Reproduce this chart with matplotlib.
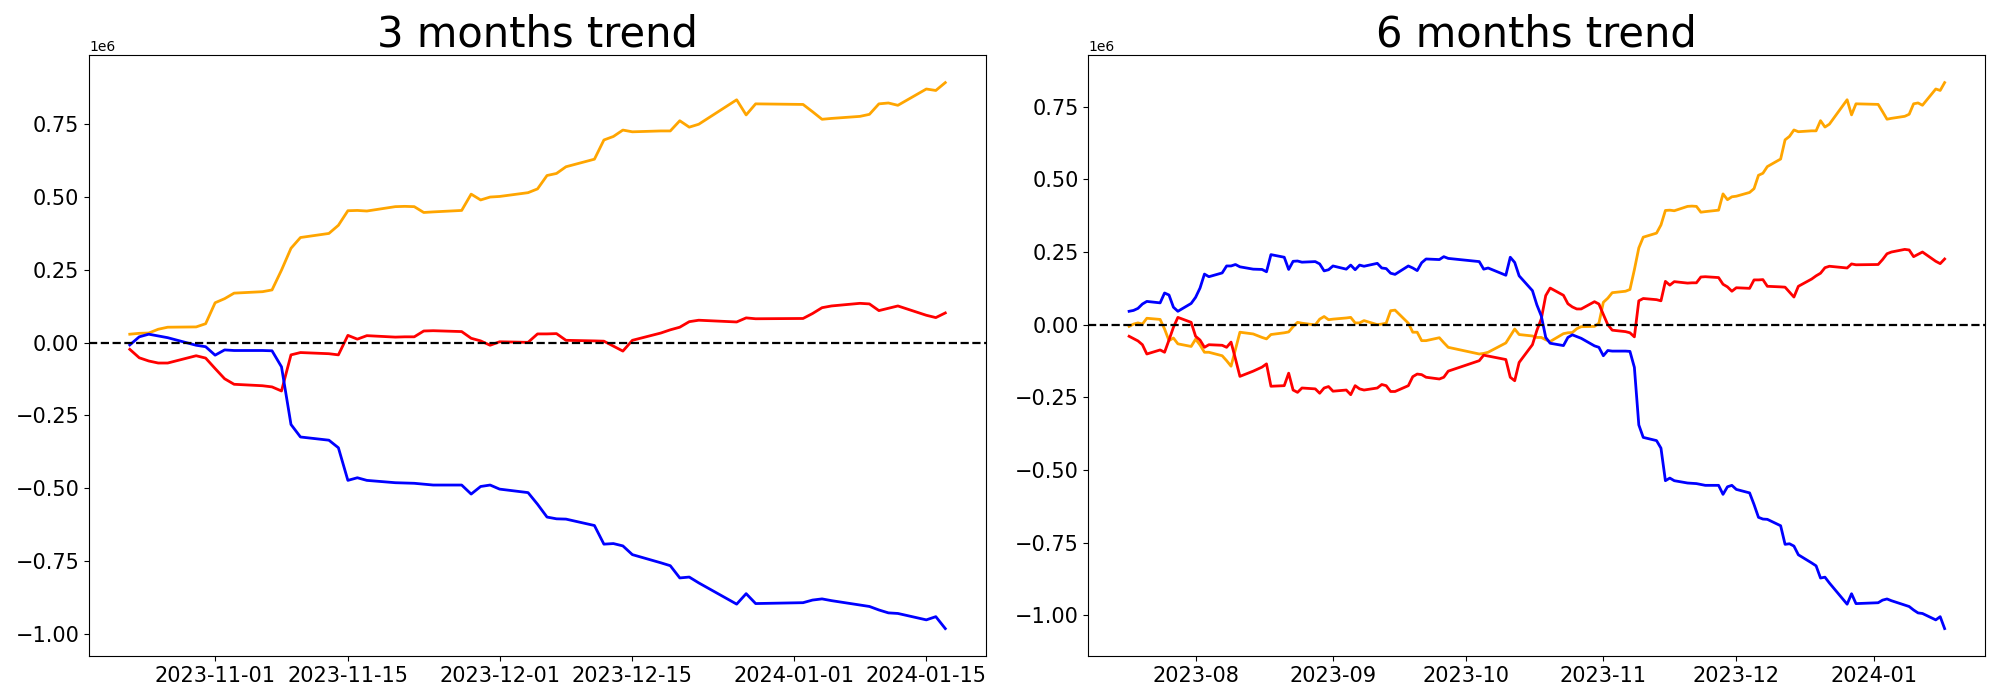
import matplotlib
matplotlib.use("Agg")
import matplotlib.pyplot as plt
import numpy as np
import pandas as pd

# ---- calendar (Korean exchange trading days) ----
krx_holidays = ["2023-08-15", "2023-09-28", "2023-09-29", "2023-10-02",
                "2023-10-03", "2023-10-09", "2023-12-25", "2023-12-29",
                "2024-01-01"]
dates_6m = pd.bdate_range("2023-07-17", "2024-01-17", freq="C",
                          holidays=krx_holidays)
dates_3m = dates_6m[dates_6m >= pd.Timestamp("2023-10-23")]

# ---- 3 months trend (values in millions) ----
orange_3m = [0.029, 0.032, 0.033, 0.046, 0.053,
             0.054, 0.065, 0.137, 0.151, 0.170,
             0.175, 0.181, 0.249, 0.324, 0.361,
             0.375, 0.403, 0.453, 0.454, 0.452,
             0.467, 0.468, 0.467, 0.447, 0.449,
             0.454, 0.510, 0.490, 0.500, 0.502,
             0.515, 0.528, 0.574, 0.581, 0.604,
             0.630, 0.696, 0.708, 0.730, 0.724,
             0.727, 0.727, 0.762, 0.740, 0.750,
             0.834, 0.782, 0.820,
             0.818, 0.793, 0.767, 0.770,
             0.777, 0.784, 0.820, 0.823, 0.815,
             0.871, 0.866, 0.893]
red_3m = [-0.023, -0.052, -0.063, -0.070, -0.070,
          -0.045, -0.053, -0.089, -0.124, -0.143,
          -0.148, -0.152, -0.166, -0.042, -0.034,
          -0.038, -0.042, 0.025, 0.012, 0.024,
          0.019, 0.020, 0.020, 0.040, 0.041,
          0.038, 0.015, 0.006, -0.009, 0.003,
          0.001, 0.030, 0.030, 0.031, 0.008,
          0.006, 0.005, -0.012, -0.029, 0.008,
          0.033, 0.044, 0.053, 0.072, 0.077,
          0.071, 0.085, 0.082,
          0.083, 0.100, 0.120, 0.126,
          0.135, 0.133, 0.110, 0.118, 0.126,
          0.094, 0.086, 0.102]
blue_3m = [-0.008, 0.020, 0.029, 0.023, 0.017,
           -0.009, -0.014, -0.043, -0.025, -0.027,
           -0.027, -0.028, -0.083, -0.281, -0.324,
           -0.335, -0.361, -0.473, -0.464, -0.473,
           -0.481, -0.482, -0.483, -0.486, -0.489,
           -0.489, -0.520, -0.494, -0.489, -0.503,
           -0.515, -0.555, -0.599, -0.605, -0.606,
           -0.628, -0.692, -0.690, -0.698, -0.728,
           -0.756, -0.766, -0.808, -0.805, -0.825,
           -0.898, -0.862, -0.896,
           -0.893, -0.884, -0.880, -0.886,
           -0.901, -0.906, -0.918, -0.928, -0.930,
           -0.952, -0.941, -0.982]

# ---- 6 months trend (values in millions) ----
orange_6m = [-0.006, 0.002, 0.006, 0.002, 0.022,
             0.018, -0.015, -0.055, -0.046, -0.066,
             -0.075, -0.050, -0.070, -0.095, -0.095,
             -0.107, -0.124, -0.143, -0.085, -0.026,
             -0.032, -0.044, -0.049, -0.034,
             -0.028, -0.025, -0.007, 0.008, 0.005,
             -0.001, 0.019, 0.028, 0.017, 0.019,
             0.023, 0.025, 0.006, 0.006, 0.014,
             0.000, 0.002, 0.005, 0.048, 0.050,
             0.005, -0.026, -0.026, -0.055, -0.055,
             -0.045, -0.062, -0.078,
             -0.101, -0.099, -0.095,
             -0.063, -0.039, -0.015, -0.034,
             -0.039, -0.044, -0.044, -0.052, -0.058,
             -0.031, -0.028, -0.027, -0.014, -0.007,
             -0.006, 0.005, 0.077, 0.091, 0.110,
             0.115, 0.121, 0.189, 0.264, 0.301,
             0.315, 0.343, 0.393, 0.394, 0.392,
             0.407, 0.408, 0.407, 0.387, 0.389,
             0.394, 0.450, 0.430, 0.440, 0.442,
             0.455, 0.468, 0.514, 0.521, 0.544,
             0.570, 0.636, 0.648, 0.670, 0.664,
             0.667, 0.667, 0.702, 0.680, 0.690,
             0.774, 0.722, 0.760,
             0.758, 0.733, 0.707, 0.710,
             0.717, 0.724, 0.760, 0.763, 0.755,
             0.811, 0.806, 0.833]
red_6m = [-0.040, -0.048, -0.056, -0.069, -0.101,
          -0.087, -0.095, -0.053, -0.009, 0.025,
          0.008, -0.040, -0.053, -0.078, -0.069,
          -0.071, -0.078, -0.060, -0.118, -0.178,
          -0.160, -0.146, -0.135, -0.212,
          -0.210, -0.167, -0.225, -0.233, -0.218,
          -0.221, -0.236, -0.218, -0.213, -0.229,
          -0.225, -0.241, -0.210, -0.221, -0.225,
          -0.218, -0.206, -0.210, -0.230, -0.230,
          -0.210, -0.179, -0.170, -0.172, -0.181,
          -0.187, -0.181, -0.160,
          -0.124, -0.105, -0.108,
          -0.120, -0.181, -0.193, -0.130,
          -0.069, -0.020, 0.020, 0.100, 0.126,
          0.101, 0.072, 0.061, 0.054, 0.054,
          0.079, 0.071, 0.035, 0.000, -0.019,
          -0.024, -0.028, -0.042, 0.082, 0.090,
          0.086, 0.082, 0.149, 0.136, 0.148,
          0.143, 0.144, 0.144, 0.164, 0.165,
          0.162, 0.139, 0.130, 0.115, 0.127,
          0.125, 0.154, 0.154, 0.155, 0.132,
          0.130, 0.129, 0.112, 0.095, 0.132,
          0.157, 0.168, 0.177, 0.196, 0.201,
          0.195, 0.209, 0.206,
          0.207, 0.224, 0.244, 0.250,
          0.259, 0.257, 0.234, 0.242, 0.250,
          0.218, 0.210, 0.226]
blue_6m = [0.046, 0.049, 0.056, 0.071, 0.080,
           0.075, 0.109, 0.102, 0.060, 0.046,
           0.073, 0.094, 0.126, 0.174, 0.165,
           0.178, 0.202, 0.202, 0.207, 0.199,
           0.191, 0.190, 0.182, 0.241,
           0.232, 0.190, 0.218, 0.219, 0.215,
           0.217, 0.209, 0.185, 0.189, 0.202,
           0.191, 0.205, 0.189, 0.205, 0.201,
           0.211, 0.195, 0.193, 0.177, 0.173,
           0.202, 0.195, 0.186, 0.213, 0.226,
           0.224, 0.234, 0.228,
           0.217, 0.191, 0.195,
           0.170, 0.232, 0.214, 0.168,
           0.117, 0.068, 0.030, -0.044, -0.064,
           -0.072, -0.044, -0.035, -0.041, -0.047,
           -0.073, -0.078, -0.107, -0.089, -0.091,
           -0.091, -0.092, -0.147, -0.345, -0.388,
           -0.399, -0.425, -0.537, -0.528, -0.537,
           -0.545, -0.546, -0.547, -0.550, -0.553,
           -0.553, -0.584, -0.558, -0.553, -0.567,
           -0.579, -0.619, -0.663, -0.669, -0.670,
           -0.692, -0.756, -0.754, -0.762, -0.792,
           -0.820, -0.830, -0.872, -0.869, -0.889,
           -0.962, -0.926, -0.960,
           -0.957, -0.948, -0.944, -0.950,
           -0.965, -0.970, -0.982, -0.992, -0.994,
           -1.016, -1.005, -1.046]

titles = ["3 months trend", "6 months trend"]
scale = 1e6

panels = [
    (dates_3m, orange_3m, red_3m, blue_3m),
    (dates_6m, orange_6m, red_6m, blue_6m),
]

fig, axes = plt.subplots(1, 2, figsize=(20, 7), dpi=100)
fig.subplots_adjust(left=0.0445, right=0.9927, bottom=0.063, top=0.921,
                    wspace=0.114)

for ax, title, (d, o, r, b) in zip(axes, titles, panels):
    ax.plot(d, np.array(o) * scale, color="orange", linewidth=2)
    ax.plot(d, np.array(r) * scale, color="red", linewidth=2)
    ax.plot(d, np.array(b) * scale, color="blue", linewidth=2)
    ax.axhline(0, color="black", linestyle="--", linewidth=1.6)
    ax.set_title(title, fontsize=30)
    ax.tick_params(labelsize=15)

fig.savefig("out.png", dpi=100)
